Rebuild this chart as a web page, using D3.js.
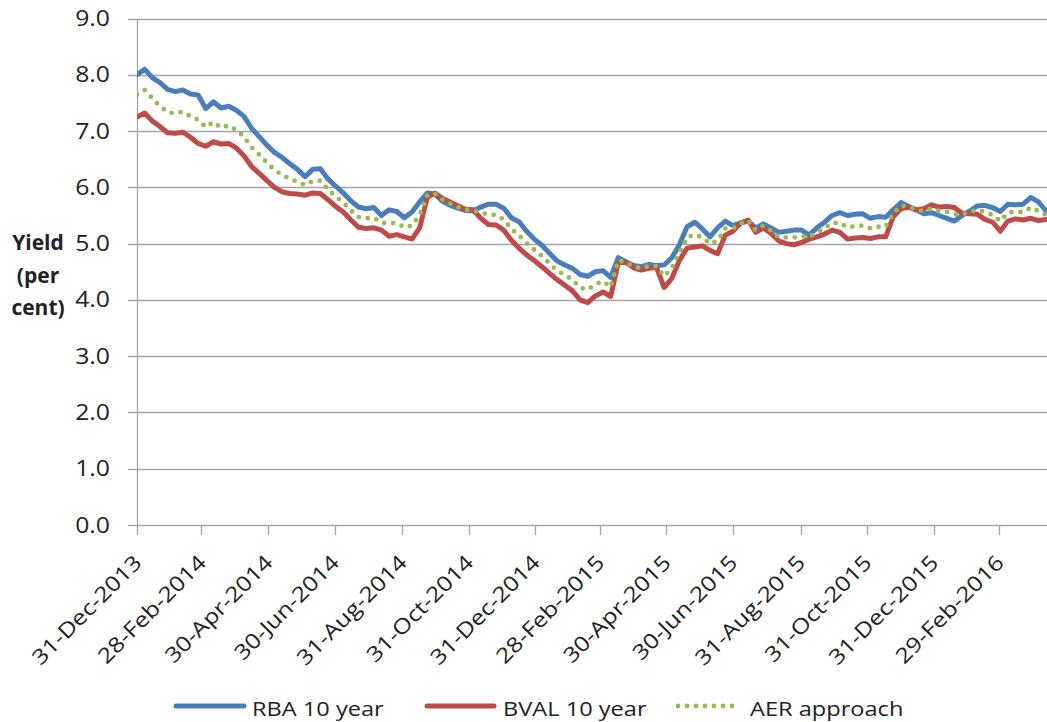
<!DOCTYPE html>
<html>
<head>
<meta charset="utf-8">
<script src="https://cdn.jsdelivr.net/npm/d3@7"></script>
<style>
  html, body { margin: 0; padding: 0; background: #fff; }
  svg { display: block; }
  text { font-family: "Open Sans", "Noto Sans", sans-serif; fill: #222; }
</style>
</head>
<body>
<svg id="chart" width="1047" height="722"></svg>
<script>
// ---- DATA (weekly observations starting 31-Dec-2013) ----
const seriesNames = ["RBA 10 year", "BVAL 10 year", "AER approach"];
const firstDate = "2013-12-31";
const lastDate = "2016-04-11";
const stepDays = 7;

const rba = [8.00,8.10,7.95,7.86,7.74,7.70,7.73,7.66,7.64,7.40,
             7.52,7.41,7.44,7.37,7.26,7.05,6.90,6.75,6.62,6.53,
             6.42,6.32,6.19,6.32,6.33,6.15,6.02,5.90,5.76,5.65,
             5.62,5.64,5.50,5.60,5.57,5.46,5.56,5.74,5.90,5.88,
             5.75,5.68,5.63,5.59,5.58,5.65,5.70,5.70,5.63,5.46,
             5.39,5.22,5.08,4.97,4.83,4.69,4.62,4.56,4.45,4.42,
             4.50,4.52,4.40,4.75,4.68,4.61,4.59,4.63,4.61,4.62,
             4.75,4.98,5.30,5.38,5.26,5.12,5.28,5.40,5.32,5.37,
             5.40,5.28,5.35,5.28,5.20,5.22,5.24,5.24,5.15,5.28,
             5.38,5.50,5.55,5.50,5.52,5.53,5.45,5.48,5.47,5.60,
             5.73,5.66,5.60,5.53,5.55,5.50,5.45,5.40,5.50,5.58,
             5.67,5.68,5.64,5.57,5.70,5.69,5.70,5.82,5.74,5.58];

const bval = [7.25,7.32,7.18,7.08,6.97,6.96,6.98,6.89,6.78,6.73,
              6.81,6.77,6.78,6.70,6.56,6.37,6.25,6.12,6.00,5.92,
              5.89,5.88,5.86,5.90,5.89,5.78,5.66,5.56,5.42,5.29,
              5.27,5.28,5.24,5.13,5.16,5.12,5.08,5.28,5.82,5.90,
              5.80,5.74,5.67,5.61,5.60,5.45,5.34,5.33,5.24,5.06,
              4.92,4.80,4.70,4.59,4.47,4.36,4.26,4.16,4.00,3.95,
              4.07,4.14,4.06,4.66,4.67,4.57,4.53,4.56,4.58,4.22,
              4.38,4.70,4.92,4.94,4.96,4.88,4.82,5.15,5.22,5.36,
              5.42,5.20,5.28,5.18,5.05,5.00,4.98,5.02,5.08,5.12,
              5.17,5.24,5.20,5.08,5.10,5.11,5.09,5.12,5.12,5.48,
              5.62,5.65,5.60,5.62,5.69,5.65,5.66,5.64,5.54,5.53,
              5.52,5.43,5.38,5.22,5.40,5.44,5.42,5.45,5.41,5.43];

const aer = [7.65,7.73,7.58,7.45,7.33,7.32,7.34,7.26,7.20,7.07,
             7.16,7.06,7.10,7.02,6.90,6.71,6.58,6.44,6.31,6.22,
             6.15,6.10,6.04,6.11,6.12,5.96,5.84,5.73,5.59,5.47,
             5.45,5.46,5.37,5.36,5.37,5.29,5.32,5.51,5.86,5.89,
             5.78,5.71,5.65,5.60,5.59,5.55,5.52,5.51,5.43,5.26,
             5.15,5.01,4.89,4.78,4.65,4.52,4.44,4.36,4.22,4.18,
             4.28,4.33,4.23,4.70,4.67,4.59,4.56,4.60,4.60,4.42,
             4.56,4.84,5.11,5.16,5.11,5.00,5.05,5.27,5.27,5.36,
             5.41,5.24,5.32,5.23,5.12,5.11,5.11,5.13,5.12,5.20,
             5.27,5.37,5.37,5.29,5.31,5.32,5.27,5.30,5.30,5.54,
             5.67,5.66,5.60,5.58,5.62,5.58,5.56,5.52,5.52,5.56,
             5.60,5.56,5.51,5.40,5.55,5.57,5.56,5.64,5.58,5.51];

const tickDates = ["2013-12-31","2014-02-28","2014-04-30","2014-06-30","2014-08-31",
                   "2014-10-31","2014-12-31","2015-02-28","2015-04-30","2015-06-30",
                   "2015-08-31","2015-10-31","2015-12-31","2016-02-29"];
const yTicks = [0,1,2,3,4,5,6,7,8,9];

// ---- BUILD ----
const parse = d3.timeParse("%Y-%m-%d");
const fmt = d3.timeFormat("%d-%b-%Y");
const start = parse(firstDate);
const dates = d3.range(rba.length).map(i => d3.timeDay.offset(start, i * stepDays));

const svg = d3.select("#chart");
const plot = { left: 137, right: 1045, top: 18.5, bottom: 525 };
const stretch = 1.18;

const x = d3.scaleTime().domain([start, parse(lastDate)]).range([plot.left, plot.right]);
const y = d3.scaleLinear().domain([0, 9]).range([plot.bottom, plot.top]);

const gridColor = "#a6a6a6";

// horizontal gridlines (with left tick stubs)
svg.append("g").selectAll("line").data(yTicks).join("line")
  .attr("x1", plot.left - 9).attr("x2", 1047)
  .attr("y1", d => Math.round(y(d)) + 0.5).attr("y2", d => Math.round(y(d)) + 0.5)
  .attr("stroke", gridColor).attr("stroke-width", 1.3);

// y axis line
svg.append("line")
  .attr("x1", plot.left + 0.5).attr("x2", plot.left + 0.5)
  .attr("y1", plot.top).attr("y2", plot.bottom)
  .attr("stroke", gridColor).attr("stroke-width", 1.3);

// y tick labels
svg.append("g").selectAll("text").data(yTicks).join("text")
  .attr("transform", d => `translate(110,${y(d)}) scale(${stretch},1)`)
  .attr("dy", "0.36em")
  .attr("text-anchor", "end")
  .style("font-size", "21px")
  .text(d => d.toFixed(1));

// x ticks
const tickObjs = tickDates.map(parse);
svg.append("g").selectAll("line").data(tickObjs).join("line")
  .attr("x1", d => Math.round(x(d)) + 0.5).attr("x2", d => Math.round(x(d)) + 0.5)
  .attr("y1", plot.bottom).attr("y2", plot.bottom + 10)
  .attr("stroke", gridColor).attr("stroke-width", 1.3);

svg.append("g").selectAll("text").data(tickObjs).join("text")
  .attr("transform", d => `translate(${x(d) + 6},${plot.bottom + 39}) rotate(-45) scale(${stretch},1)`)
  .attr("text-anchor", "end")
  .style("font-size", "21px")
  .text(d => fmt(d));

// y axis title
const yTitle = svg.append("text")
  .attr("text-anchor", "middle")
  .style("font-size", "21px").style("font-weight", "bold");
[["Yield", 250], ["(per", 283], ["cent)", 315]].forEach(([t, yy]) => {
  yTitle.append("tspan").attr("x", 38).attr("y", yy).text(t);
});

// clip
svg.append("clipPath").attr("id", "clip").append("rect")
  .attr("x", plot.left).attr("y", 0).attr("width", 1047 - plot.left).attr("height", plot.bottom);

const line = d3.line().x((d, i) => x(dates[i])).y(d => y(d));

const styles = [
  { data: rba, color: "#4a7ebb", width: 5, dash: null },
  { data: bval, color: "#be4b48", width: 5, dash: null },
  { data: aer, color: "#98b954", width: 4.8, dash: "0,9" }
];

const lines = svg.append("g").attr("clip-path", "url(#clip)");
styles.forEach(s => {
  lines.append("path")
    .attr("d", line(s.data))
    .attr("fill", "none")
    .attr("stroke", s.color)
    .attr("stroke-width", s.width)
    .attr("stroke-linejoin", "round")
    .attr("stroke-linecap", "round")
    .attr("stroke-dasharray", s.dash);
});

// legend
const legendItems = [
  { x1: 176, x2: 244, tx: 252 },
  { x1: 427, x2: 494, tx: 503 },
  { x1: 678, x2: 740, tx: 750 }
];
const lg = svg.append("g");
legendItems.forEach((it, i) => {
  lg.append("line")
    .attr("x1", it.x1).attr("x2", it.x2).attr("y1", 706).attr("y2", 706)
    .attr("stroke", styles[i].color).attr("stroke-width", styles[i].width)
    .attr("stroke-linecap", "round")
    .attr("stroke-dasharray", styles[i].dash);
  lg.append("text")
    .attr("transform", `translate(${it.tx},716) scale(${stretch},1)`)
    .style("font-size", "20px")
    .text(seriesNames[i]);
});
</script>
</body>
</html>
